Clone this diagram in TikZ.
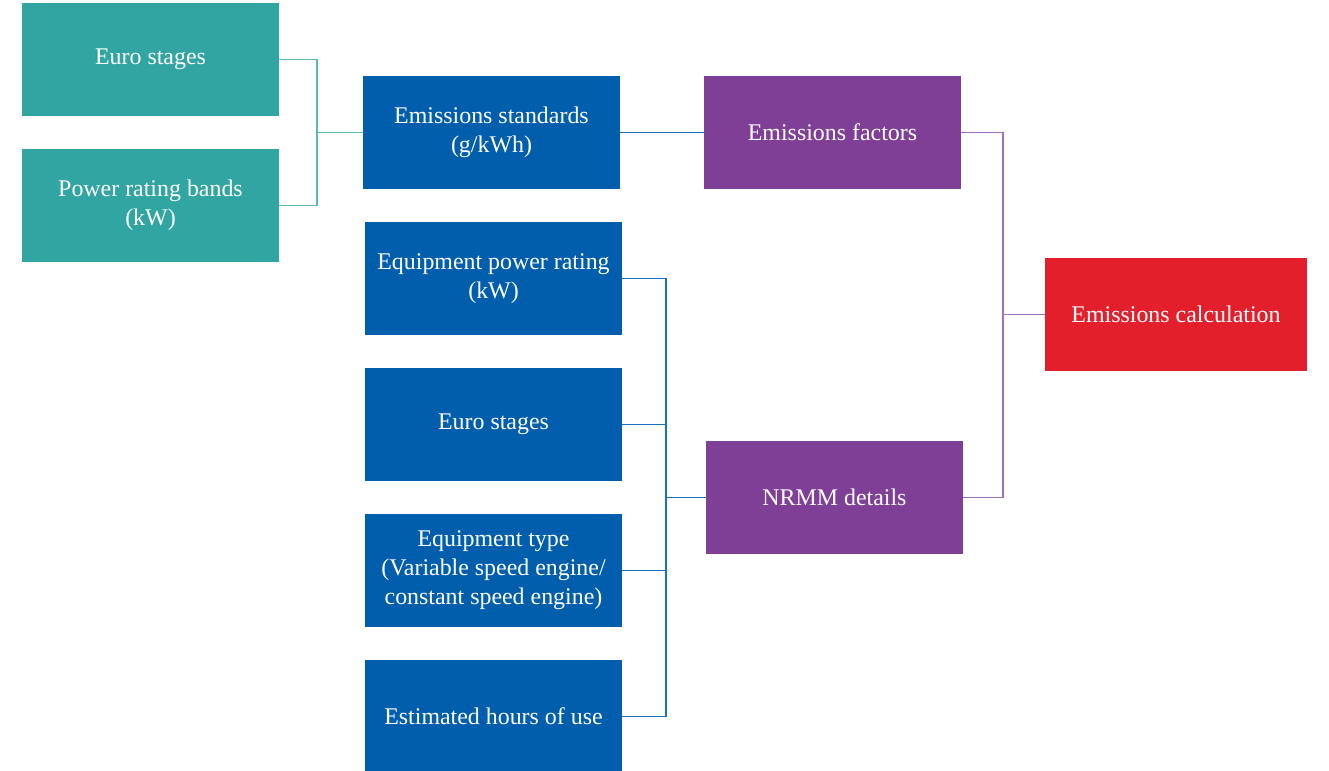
\documentclass[tikz,border=0pt]{standalone}
\usepackage{fontspec}
\setmainfont{Liberation Serif}
\usepackage{tikz}
\usetikzlibrary{positioning,calc}

\definecolor{tealfill}{HTML}{31A5A2}
\definecolor{bluefill}{HTML}{005EAD}
\definecolor{purplefill}{HTML}{7F3F97}
\definecolor{redfill}{HTML}{E31F2C}
\definecolor{tealline}{HTML}{5DB9B6}
\definecolor{blueline}{HTML}{1A6FBF}
\definecolor{purpleline}{HTML}{A070B8}

\begin{document}
\begin{tikzpicture}[
  line width=1pt,
  block/.style={rectangle, minimum width=5.14cm, minimum height=2.26cm, inner sep=2pt,
    outer sep=0pt, align=center, text=white, font=\fontsize{13.6}{16.5}\selectfont},
  tealblock/.style={block, fill=tealfill},
  blueblock/.style={block, fill=bluefill},
  purpleblock/.style={block, fill=purplefill},
  redblock/.style={block, fill=redfill, minimum width=5.24cm},
]
\useasboundingbox (0,0) rectangle (26.58,-15.42);
% inputs to the standards
\node[tealblock] (euro1) at (3.01,-1.19) {Euro stages};
\node[tealblock, below=0.66cm of euro1] (bands) {Power rating bands\\(kW)};
\node[blueblock] (standards) at (9.83,-2.65) {Emissions standards\\(g/kWh)};
\node[purpleblock, right=1.68cm of standards] (factors) {Emissions factors};
% machinery details
\node[blueblock] (rating) at (9.87,-5.57) {Equipment power rating\\(kW)};
\node[blueblock, below=0.66cm of rating] (euro2) {Euro stages};
\node[blueblock, below=0.66cm of euro2] (etype) {Equipment type\\(Variable speed engine/\\constant speed engine)};
\node[blueblock, below=0.66cm of etype] (hours) {Estimated hours of use};
\node[purpleblock] (nrmm) at (16.69,-9.95) {NRMM details};
\node[redblock] (calc) at (23.52,-6.29) {Emissions calculation};

\coordinate (tbus) at (6.34,-2.65);
\coordinate (bbus) at (13.32,-9.95);
\coordinate (pbus) at (20.06,-6.29);

\draw[tealline] (euro1.east) -| (tbus) |- (bands.east);
\draw[tealline] (tbus) -- (standards.west);
\draw[blueline] (standards.east) -- (factors.west);
\draw[blueline] (rating.east) -| (bbus) |- (hours.east);
\draw[blueline] (euro2.east) -| (bbus);
\draw[blueline] (etype.east) -| (bbus);
\draw[blueline] (bbus) -- (nrmm.west);
\draw[purpleline] (factors.east) -| (pbus) |- (nrmm.east);
\draw[purpleline] (pbus) -- (calc.west);
\end{tikzpicture}
\end{document}
